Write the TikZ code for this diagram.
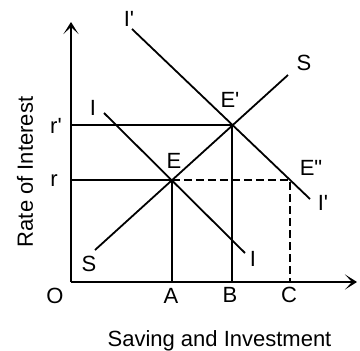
\documentclass[tikz,border=0pt]{standalone}
\usepackage{fontspec}
\setmainfont{Liberation Sans}
\usetikzlibrary{arrows.meta}
\newcommand{\prm}{\textquotesingle}

\begin{document}
\begin{tikzpicture}[x=1pt, y=-1pt,
    curve/.style={line width=1.8pt},
    axis/.style={line width=2.2pt, -{Stealth[length=12pt, width=15pt, inset=7pt]}},
    guide/.style={line width=1.8pt, dash pattern=on 8pt off 4pt},
    lbl/.style={inner sep=0pt, font=\fontsize{22}{22}\selectfont}
]
    \useasboundingbox (0,0) rectangle (360,351);
    % points of the diagram
    \coordinate (O) at (71,282);
    \coordinate (ytip) at (71,22);
    \coordinate (xtip) at (357,282);
    \coordinate (E) at (172,180);
    \coordinate (Ep) at (232,125);
    \coordinate (Epp) at (290,180);
    \coordinate (rr) at (71,180);
    \coordinate (rp) at (71,125);
    \coordinate (A) at (172,282);
    \coordinate (B) at (232,282);
    \coordinate (C) at (290,282);
    \coordinate (S0) at (95,250);
    \coordinate (S1) at (288,75);
    \coordinate (I0) at (104,113);
    \coordinate (I1) at (245,253);
    \coordinate (Ip0) at (132,29);
    \coordinate (Ip1) at (310,199);

    % axes
    \draw[axis] (O) -- (ytip);
    \draw[axis] (O) -- (xtip);

    % curves
    \draw[curve] (S0) -- (S1);
    \draw[curve] (I0) -- (I1);
    \draw[curve] (Ip0) -- (Ip1);

    % guide lines
    \draw[curve] (rp) -- (Ep) -- (B);
    \draw[curve] (rr) -- (E) -- (A);
    \draw[guide] (E) -- (Epp) -- (C);

    % labels
    \node[lbl] (lIpt) at (129,18.5) {I\prm};
    \node[lbl] (lSt) at (304,62.5) {S};
    \node[lbl] (lEp) at (230,100) {E\prm};
    \node[lbl] (lE) at (174,161) {E};
    \node[lbl] (lEpp) at (311,168) {E\textquotedbl};
    \node[lbl] (lIt) at (93,107.5) {I};
    \node[lbl] (lIb) at (253,259) {I};
    \node[lbl] (lIpb) at (323,203) {I\prm};
    \node[lbl] (lSb) at (89,263.5) {S};
    \node[lbl] (lrp) at (56,126) {r\prm};
    \node[lbl] (lr) at (54,181) {r};
    \node[lbl] (lO) at (55,296) {O};
    \node[lbl] (lA) at (171,296) {A};
    \node[lbl] (lB) at (230,295) {B};
    \node[lbl] (lC) at (289,295) {C};
    \node[lbl, anchor=base] (xlab) at (219.5,346) {Saving and Investment};
    \node[lbl, rotate=90] (ylab) at (25,172) {Rate of Interest};
\end{tikzpicture}
\end{document}
